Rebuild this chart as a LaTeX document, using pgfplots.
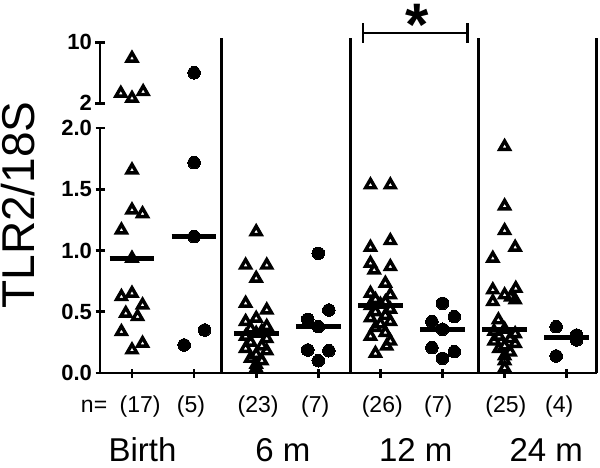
\documentclass[border=0pt]{standalone}
\usepackage{pgfplots}
\pgfplotsset{compat=1.18}
\usepackage{fontspec}
\setmainfont{Liberation Sans}

\pgfplotsset{
 base/.style={
  scale only axis, width=496.7pt, xmin=-0.515, xmax=7.483,
  tick style={line width=2.8pt, black},
  major tick length=9pt,
  tick align=outside,
  ticklabel style={font=\bfseries\fontsize{22}{22}\selectfont},
  /pgf/number format/assume math mode=true,
  clip=false,
 },
 lines/.style={axis line style={-, line width=2.8pt, black},
  x axis line style={-}, y axis line style={-}},
 tri/.style={only marks, mark=triangle, mark size=5.6pt,
  every mark/.append style={line width=3.4pt, black, fill=none, miter limit=4}},
 dot/.style={only marks, mark=*, mark size=6.3pt, mark options={black, fill=black, line width=0pt}},
 med/.style={line width=5pt, black, no marks},
}

\begin{document}
\begin{tikzpicture}
\useasboundingbox (0,0) rectangle (600pt,467pt);

% ---------- lower segment ----------
\begin{axis}[base, at={(100pt,94pt)}, anchor=south west, height=245pt,
  ymin=0, ymax=2, axis x line=bottom, axis y line=left, lines,
  ytick={0,0.5,1,1.5,2}, yticklabels={0.0,0.5,1.0,1.5,2.0},
  xtick={0,1,2,3,4,5,6,7}, xticklabels={}]
% Birth, triangles
\addplot[tri] coordinates {(0,1.657) (0,1.33) (0.17,1.30) (-0.17,1.167) (0,0.936)
 (-0.17,0.623) (0,0.65) (0.17,0.555) (-0.1,0.487) (0.09,0.46) (-0.17,0.337) (0,0.188) (0.17,0.242)};
% Birth, dots
\addplot[dot] coordinates {(1,1.717) (1,1.113) (1.17,0.351) (0.84,0.229)};
% 6 m, triangles
\addplot[tri] coordinates {(2,1.153) (1.83,0.88) (2.17,0.88) (2,0.773) (1.83,0.569) (2.17,0.514)
 (2,0.446) (1.83,0.42) (2.17,0.38) (1.91,0.36) (2.09,0.34) (2,0.324) (1.83,0.30) (2.17,0.28)
 (1.91,0.25) (2.09,0.22) (1.83,0.20) (2.17,0.18) (2,0.15) (1.91,0.12) (2.09,0.10) (2,0.07) (2,0.04)};
% 6 m, dots
\addplot[dot] coordinates {(3,0.977) (3.17,0.514) (2.83,0.438) (3,0.378) (2.83,0.188) (3.17,0.182) (3,0.10)};
% 12 m, triangles
\addplot[tri] coordinates {(3.84,1.535) (4.16,1.535) (4.16,1.08) (3.84,1.026) (3.84,0.895) (4.16,0.868)
 (3.9,0.84) (4.08,0.732) (3.84,0.65) (4.16,0.637) (3.92,0.60) (4.08,0.58) (4,0.56) (3.84,0.55)
 (4.16,0.52) (3.92,0.50) (4.08,0.47) (3.84,0.45) (4.16,0.42) (4,0.40) (3.92,0.37) (4.08,0.33)
 (3.84,0.30) (4.16,0.26) (4.1,0.22) (3.92,0.16)};
% 12 m, dots
\addplot[dot] coordinates {(5,0.569) (5.19,0.46) (4.83,0.419) (5,0.357) (4.83,0.207) (5.19,0.174) (5,0.12)};
% 24 m, triangles
\addplot[tri] coordinates {(6,1.848) (6,1.363) (6,1.162) (6.17,1.026) (5.81,0.936) (6.18,0.69) (5.81,0.678)
 (6,0.637) (6.1,0.62) (6.17,0.596) (5.81,0.582) (5.9,0.433) (6,0.357) (5.83,0.34) (6.17,0.32)
 (5.91,0.30) (6.09,0.28) (5.83,0.26) (6.17,0.24) (6,0.22) (5.91,0.20) (6.09,0.17) (6,0.14) (6,0.10) (6,0.04)};
% 24 m, dots
\addplot[dot] coordinates {(6.83,0.378) (7.16,0.31) (7.16,0.27) (6.83,0.139)};
% medians
\addplot[med] coordinates {(-0.36,0.936) (0.36,0.936)};
\addplot[med] coordinates {(0.64,1.113) (1.36,1.113)};
\addplot[med] coordinates {(1.64,0.324) (2.36,0.324)};
\addplot[med] coordinates {(2.64,0.378) (3.36,0.378)};
\addplot[med] coordinates {(3.64,0.555) (4.36,0.555)};
\addplot[med] coordinates {(4.64,0.357) (5.36,0.357)};
\addplot[med] coordinates {(5.64,0.357) (6.36,0.357)};
\addplot[med] coordinates {(6.64,0.29) (7.36,0.29)};
% separators
\draw[line width=2.8pt] (axis cs:1.444,0) -- (axis cs:1.444,2.735);
\draw[line width=2.8pt] (axis cs:3.522,0) -- (axis cs:3.522,2.735);
\draw[line width=2.8pt] (axis cs:5.583,0) -- (axis cs:5.583,2.735);
\draw[line width=2.8pt] (axis cs:7.483,0) -- (axis cs:7.483,2.735);
% significance
\draw[line width=2.8pt] (axis cs:3.72,2.776) -- (axis cs:5.406,2.776);
\draw[line width=2.8pt] (axis cs:3.72,2.694) -- (axis cs:3.72,2.857);
\draw[line width=2.8pt] (axis cs:5.406,2.694) -- (axis cs:5.406,2.857);
\node[anchor=base, font=\bfseries\fontsize{60}{60}\selectfont, inner sep=0pt] at (axis cs:4.59,2.67) {*};
% n labels
\begin{scope}[every node/.style={anchor=base, font=\fontsize{23}{23}\selectfont, inner sep=0pt}]
\node at (axis cs:-0.61,-0.3265) {n=};
\node at (axis cs:0.13,-0.3265) {(17)};
\node at (axis cs:0.95,-0.3265) {(5)};
\node at (axis cs:2.03,-0.3265) {(23)};
\node at (axis cs:2.95,-0.3265) {(7)};
\node at (axis cs:4.03,-0.3265) {(26)};
\node at (axis cs:4.93,-0.3265) {(7)};
\node at (axis cs:6.02,-0.3265) {(25)};
\node at (axis cs:6.88,-0.3265) {(4)};
\end{scope}
\begin{scope}[every node/.style={anchor=base, font=\fontsize{33}{33}\selectfont, inner sep=0pt}]
\node at (axis cs:0.17,-0.72) {Birth};
\node at (axis cs:2.43,-0.72) {6 m};
\node at (axis cs:4.57,-0.72) {12 m};
\node at (axis cs:6.67,-0.72) {24 m};
\end{scope}
\end{axis}

% ---------- upper segment ----------
\begin{axis}[base, at={(100pt,363.7pt)}, anchor=south west, height=61pt,
  ymin=2, ymax=10, axis x line=none, axis y line=left, lines,
  ytick={2,10}, yticklabels={2,10}]
\addplot[tri] coordinates {(0,7.9) (-0.18,3.31) (0,2.66) (0.18,3.52)};
\addplot[dot] coordinates {(1,6.0)};
\end{axis}

\node[rotate=90, anchor=base, font=\fontsize{46}{46}\selectfont, inner sep=0pt] at (35pt,262pt) {TLR2/18S};
\end{tikzpicture}
\end{document}
